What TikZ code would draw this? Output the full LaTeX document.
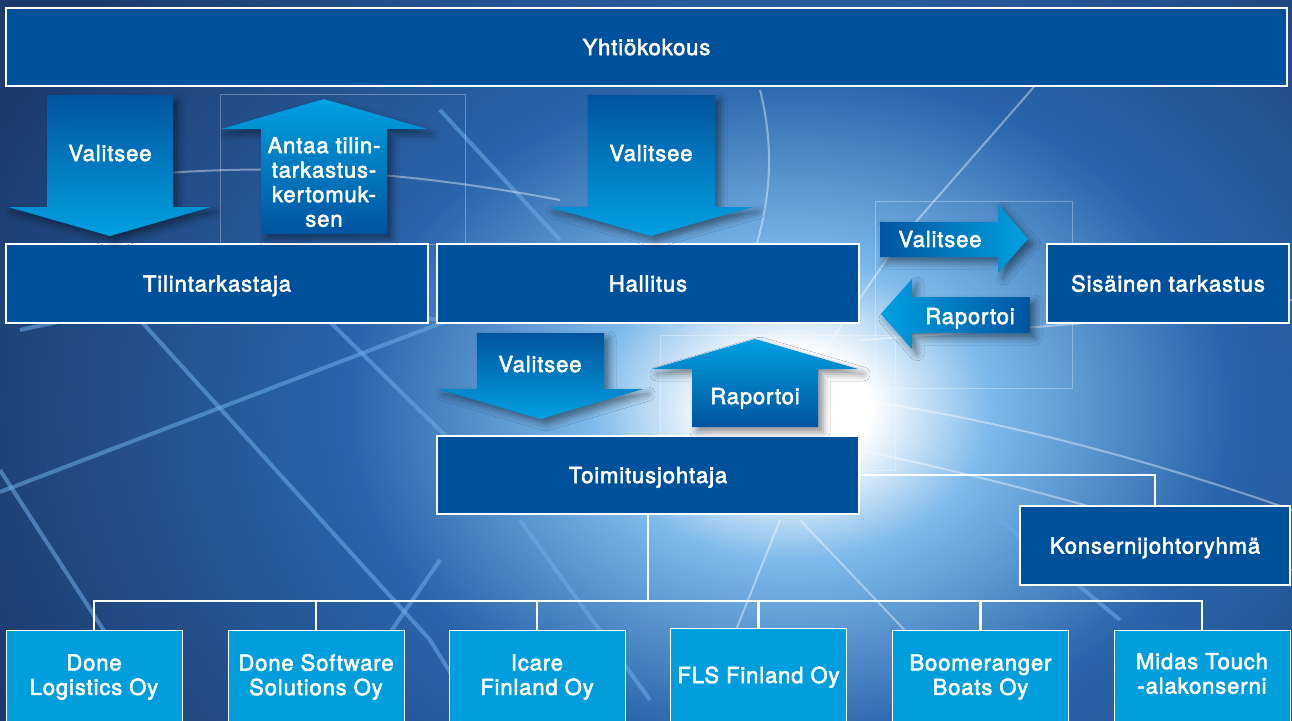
\documentclass[tikz,border=0pt]{standalone}
\usepackage{fontspec}
\newfontfamily\hfont{TeX Gyre Heros}[FakeBold=2.5, LetterSpace=4]
\usetikzlibrary{shadows.blur,calc}
\definecolor{bgnavy}{HTML}{1C3A6C}
\definecolor{bgmid}{HTML}{2A64AA}
\definecolor{bglight}{HTML}{7DB9EA}
\definecolor{raycol}{HTML}{6CAEE8}
\definecolor{boxblue}{HTML}{00519B}
\definecolor{cyanbox}{HTML}{009EDD}
\definecolor{arrdark}{HTML}{00549F}
\definecolor{arrlight}{HTML}{00A1E2}
\pgfdeclareradialshading{glow}{\pgfpoint{0bp}{0bp}}{%
  color(0bp)=(white); color(2bp)=(white); color(5bp)=(bglight);
  color(11bp)=(bgmid); color(22bp)=(bgnavy); color(50bp)=(bgnavy)}
\tikzset{
  txt/.style={text=white, font=\hfont\fontsize{22}{24.5}\selectfont, align=center, inner sep=0pt},
  one/.style={text height=16pt, text depth=0pt},
  box/.style={txt, one, draw=white, line width=1.2pt, fill=boxblue, minimum height=79pt},
  subbox/.style={txt, draw=white, line width=1pt, fill=cyanbox, minimum width=176pt, minimum height=94pt},
  conn/.style={draw=white, line width=2.5pt},
  arrshadow/.style={blur shadow={shadow xshift=5pt, shadow yshift=-5pt, shadow blur radius=7pt, shadow opacity=45}},
  ray/.style={draw=raycol, line width=4pt, opacity=0.55},
  ray2/.style={draw=white, line width=2pt, opacity=0.4},
  frame/.style={draw=white, line width=0.6pt, opacity=0.3}
}
\begin{document}
\begin{tikzpicture}[x=1pt,y=-1pt]
\useasboundingbox (0,0) rectangle (1292,720);
\begin{scope}
\clip (0,0) rectangle (1292,720);
\fill[bgnavy] (0,0) rectangle (1292,720);
\shade[shading=glow] (790,410) ellipse (1000 and 760);
% rays
\draw[ray] (0,492) -- (470,312) -- (700,230);
\draw[ray] (140,320) -- (430,640) -- (480,720);
\draw[ray] (0,470) -- (110,640) -- (150,720);
\draw[ray] (330,322) -- (460,450);
\draw[ray] (20,330) .. controls (150,300) and (300,300) .. (440,320);
\draw[ray] (440,110) -- (560,240);
\draw[ray] (440,560) -- (330,720);
\draw[ray] (520,520) -- (650,700);
\draw[ray2] (760,90) .. controls (775,150) and (770,200) .. (755,250);
\draw[ray2] (1040,80) -- (900,240) -- (790,400);
\draw[ray2] (860,340) .. controls (1000,330) and (1150,320) .. (1292,300);
\draw[ray2] (860,400) .. controls (1000,420) and (1150,460) .. (1292,510);
\draw[ray2] (860,450) .. controls (1000,480) and (1150,520) .. (1292,570);
\draw[ray2] (780,520) -- (700,720);
\draw[ray2] (800,520) -- (990,720);
\draw[ray] (1000,520) -- (1120,620);
\draw[ray2] (100,180) .. controls (250,160) and (400,170) .. (560,200);
\end{scope}
% faint frames
\draw[frame] (220,94) rectangle (465,244);
\draw[frame] (875,201) rectangle (1072,388);
\draw[frame] (660,335) rectangle (895,470);
% boxes
\node[box, minimum width=1281pt, minimum height=78pt] (yk) at (646.5,47) {Yhtiökokous};
\node[box, minimum width=422pt] (tt) at (217,283.5) {Tilintarkastaja};
\node[box, minimum width=422pt] (hal) at (648,283.5) {Hallitus};
\node[box, minimum width=242pt] (sis) at (1168,283.5) {Sisäinen tarkastus};
\node[box, minimum width=422pt, minimum height=78pt] (toj) at (648,475) {Toimitusjohtaja};
\node[box, minimum width=270pt] (kjr) at (1155,545.5) {Konsernijohtoryhmä};
\node[subbox] (d1) at (94,677) {Done\\Logistics Oy};
\node[subbox] (d2) at (316,677) {Done Software\\Solutions Oy};
\node[subbox] (d3) at (537,677) {Icare\\Finland Oy};
\node[subbox, one] (d4) at (758.5,675) {FLS Finland Oy};
\node[subbox] (d5) at (980.5,677) {Boomeranger\\Boats Oy};
\node[subbox] (d6) at (1202,677) {Midas Touch\\-alakonserni\strut};
% connectors
\coordinate (bus) at (648,601);
\draw[conn] (toj.south) -- (bus);
\draw[conn] (d1.north) -- (d1.north |- bus) -- (d6.north |- bus) -- (d6.north);
\foreach \n in {d2,d3,d4,d5} \draw[conn] (\n.north) -- (\n.north |- bus);
\draw[conn] (toj.east) -| (kjr.north);
\draw[white, line width=2.5pt] (547,244) -- (793,244);
% arrows
\path[arrshadow, top color=arrdark, bottom color=arrlight]
  (47,95) -- (173,95) -- (173,207) -- (211,207) -- (110,236) -- (8,207) -- (47,207) -- cycle;
\path[arrshadow, top color=arrlight, bottom color=arrdark]
  (261,234) -- (261,129) -- (221,129) -- (324,99) -- (427,129) -- (387,129) -- (387,234) -- cycle;
\path[arrshadow, top color=arrdark, bottom color=arrlight]
  (588,95) -- (715,95) -- (715,207) -- (753,207) -- (651,236) -- (549,207) -- (588,207) -- cycle;
\path[arrshadow, left color=arrdark, right color=arrlight]
  (880,222) -- (998,222) -- (998,204) -- (1028,239) -- (998,273) -- (998,257) -- (880,257) -- cycle;
\path[arrshadow, left color=arrlight, right color=arrdark]
  (1030,297) -- (912,297) -- (912,279) -- (881,314) -- (912,349) -- (912,333) -- (1030,333) -- cycle;
\path[arrshadow, top color=arrdark, bottom color=arrlight]
  (477,333) -- (604,333) -- (604,389) -- (643,389) -- (541,419) -- (438,389) -- (477,389) -- cycle;
\path[arrshadow, top color=arrlight, bottom color=arrdark]
  (692,427) -- (692,369) -- (652,369) -- (755,339) -- (858,369) -- (818,369) -- (818,427) -- cycle;
% arrow labels
\node[txt, one] (l1) at (110,153) {Valitsee};
\node[txt] (l2) at (324,182) {Antaa tilin-\\tarkastus-\\kertomuk-\\sen};
\node[txt, one] (l3) at (651,153) {Valitsee};
\node[txt, one] (l4) at (940,239) {Valitsee};
\node[txt, one] (l5) at (970,316) {Raportoi};
\node[txt, one] (l6) at (540,364) {Valitsee};
\node[txt, one] (l7) at (755,396) {Raportoi};
\end{tikzpicture}
\end{document}
